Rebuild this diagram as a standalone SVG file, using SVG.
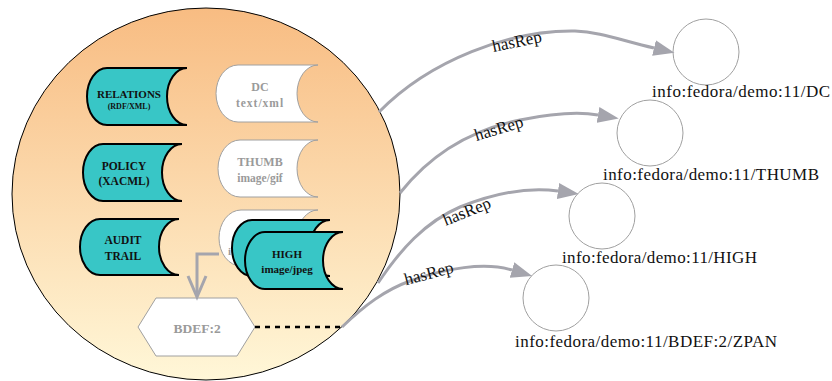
<svg xmlns="http://www.w3.org/2000/svg" width="832" height="381" viewBox="0 0 832 381">
<defs>
<linearGradient id="bg" x1="0" y1="0" x2="0" y2="1">
<stop offset="0" stop-color="#F8BC82"/>
<stop offset="1" stop-color="#FFF7D8"/>
</linearGradient>
<marker id="arr" markerUnits="userSpaceOnUse" viewBox="0 -9 22 18" markerWidth="22" markerHeight="18" refX="0" refY="0" orient="auto">
<path d="M0,-8 L21,0 L0,8 z" fill="#A5A5AD"/>
</marker>
<style>
.teal{fill:#38C6C6;stroke:#000;stroke-width:2}
.ghost{fill:#fff;stroke:#A0A0A0;stroke-width:1}
.tt{font-weight:bold;fill:#111;text-anchor:middle}
.gt{font-weight:bold;fill:#9A9A9A;text-anchor:middle}
.edge{fill:none;stroke:#A5A5AD;stroke-width:3}
.lbl{font-size:17px;fill:#111;text-anchor:middle}
.uri{font-size:17px;fill:#111}
.res{fill:#fff;stroke:#A0A0A0;stroke-width:1}
</style>
</defs>
<rect width="832" height="381" fill="#fff"/>
<g font-family="Liberation Serif, Times New Roman, serif">
<g id="object">
<ellipse cx="206" cy="194" rx="194" ry="186" fill="url(#bg)" stroke="#000" stroke-width="1"/>
</g>
<g id="relations">
<path class="teal" d="M107,68 L187,68 A20,28.5 0 0 0 187,125 L107,125 A20,28.5 0 0 1 107,68 Z"/>
<text class="tt" x="129" y="98" font-size="11">RELATIONS</text>
<text class="tt" x="129" y="109" font-size="8">(RDF/XML)</text>
</g>
<g id="policy">
<path class="teal" d="M103,144 L182,144 A20,28.5 0 0 0 182,201 L103,201 A20,28.5 0 0 1 103,144 Z"/>
<text class="tt" x="124" y="170" font-size="11.5">POLICY</text>
<text class="tt" x="124" y="185" font-size="11.5">(XACML)</text>
</g>
<g id="audit">
<path class="teal" d="M100,219 L179,219 A20,28 0 0 0 179,275 L100,275 A20,28 0 0 1 100,219 Z"/>
<text class="tt" x="123" y="244" font-size="11.5">AUDIT</text>
<text class="tt" x="123" y="260" font-size="11.5">TRAIL</text>
</g>
<g id="dc">
<path class="ghost" d="M238,65 L318,65 A21,28.5 0 0 0 318,122 L238,122 A22,28.5 0 0 1 238,65 Z"/>
<text class="gt" x="260" y="91" font-size="12">DC</text>
<text class="gt" x="260" y="107" font-size="11.5" letter-spacing="1">text/xml</text>
</g>
<g id="thumb">
<path class="ghost" d="M240,140 L318,140 A21,28.5 0 0 0 318,197 L240,197 A22,28.5 0 0 1 240,140 Z"/>
<text class="gt" x="260" y="166" font-size="12">THUMB</text>
<text class="gt" x="260" y="182" font-size="11.5">image/gif</text>
</g>
<g id="high">
<path class="ghost" d="M241,210 L318,210 A21,28 0 0 0 318,266 L241,266 A22,28 0 0 1 241,210 Z"/>
<text class="gt" x="228" y="255" font-size="11" style="text-anchor:start">i</text>
<path class="teal" d="M252,220 L330,220 A20,28 0 0 0 330,276 L252,276 A20,28 0 0 1 252,220 Z"/>
<path class="teal" d="M265,232 L343,232 A20,28.5 0 0 0 343,289 L265,289 A20,28.5 0 0 1 265,232 Z"/>
<text class="tt" x="287" y="258" font-size="11">HIGH</text>
<text class="tt" x="287" y="273" font-size="11">image/jpeg</text>
</g>
<g id="bdef">
<polygon class="ghost" points="138,327 156,298 237,298 255,327 237,356 156,356"/>
<text class="gt" x="197" y="333" font-size="13.5">BDEF:2</text>
</g>
<g id="r-dc">
<circle class="res" cx="706" cy="52" r="33"/>
<text class="uri" x="652" y="97" textLength="178">info:fedora/demo:11/DC</text>
</g>
<g id="r-thumb">
<circle class="res" cx="650" cy="133" r="33"/>
<text class="uri" x="603" y="180" textLength="216">info:fedora/demo:11/THUMB</text>
</g>
<g id="r-high">
<circle class="res" cx="602" cy="216" r="33"/>
<text class="uri" x="562" y="263" textLength="195">info:fedora/demo:11/HIGH</text>
</g>
<g id="r-zpan">
<circle class="res" cx="556" cy="298" r="33"/>
<text class="uri" x="515" y="347" textLength="262">info:fedora/demo:11/BDEF:2/ZPAN</text>
</g>
<g id="connectors">
<path class="edge" d="M219,254 L197,254 L197,296"/>
<path d="M188,276 L197,297 L206,276" fill="none" stroke="#A5A5AD" stroke-width="3"/>
<path d="M255,327 L342,327" fill="none" stroke="#000" stroke-width="2.5" stroke-dasharray="5,5"/>
<path class="edge" marker-end="url(#arr)" d="M379,112 C430,60 510,30 575,31 C600,32 620,40 654,48"/>
<path class="edge" marker-end="url(#arr)" d="M400,193 C430,155 470,130 520,120 C550,114 575,111 598,115"/>
<path class="edge" marker-end="url(#arr)" d="M378,283 C400,250 425,222 460,207 C495,193 530,187 558,191"/>
<path class="edge" marker-end="url(#arr)" d="M342,327 C365,305 385,290 410,281 C445,268 485,262 512,270"/>
<text class="lbl" x="517" y="47" transform="rotate(-12 517 42)">hasRep</text>
<text class="lbl" x="499" y="134" transform="rotate(-17 499 129)">hasRep</text>
<text class="lbl" x="467" y="217" transform="rotate(-22 467 212)">hasRep</text>
<text class="lbl" x="429" y="279" transform="rotate(-15 429 274)">hasRep</text>
</g>
</g>
</svg>
